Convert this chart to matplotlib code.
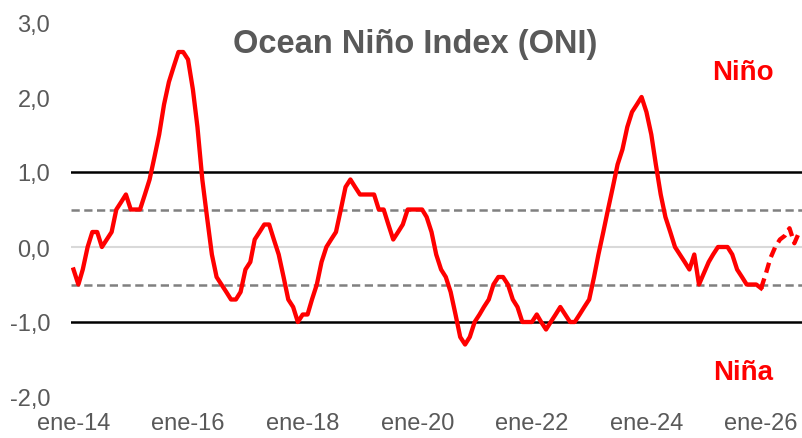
import matplotlib
matplotlib.use("Agg")
import matplotlib.pyplot as plt
import matplotlib.dates as mdates
import pandas as pd

plt.rcParams['font.family'] = ['Liberation Sans', 'DejaVu Sans']

# ONI, one value per month from ene-14 (observed) and the forecast tail
oni_obs = [
    -0.3, -0.5, -0.3, 0.0, 0.2, 0.2, 0.0, 0.1, 0.2, 0.5, 0.6, 0.7,      # 2014
    0.5, 0.5, 0.5, 0.7, 0.9, 1.2, 1.5, 1.9, 2.2, 2.4, 2.6, 2.6,         # 2015
    2.5, 2.1, 1.6, 0.9, 0.4, -0.1, -0.4, -0.5, -0.6, -0.7, -0.7, -0.6,  # 2016
    -0.3, -0.2, 0.1, 0.2, 0.3, 0.3, 0.1, -0.1, -0.4, -0.7, -0.8, -1.0,  # 2017
    -0.9, -0.9, -0.7, -0.5, -0.2, 0.0, 0.1, 0.2, 0.5, 0.8, 0.9, 0.8,    # 2018
    0.7, 0.7, 0.7, 0.7, 0.5, 0.5, 0.3, 0.1, 0.2, 0.3, 0.5, 0.5,         # 2019
    0.5, 0.5, 0.4, 0.2, -0.1, -0.3, -0.4, -0.6, -0.9, -1.2, -1.3, -1.2, # 2020
    -1.0, -0.9, -0.8, -0.7, -0.5, -0.4, -0.4, -0.5, -0.7, -0.8, -1.0, -1.0,  # 2021
    -1.0, -0.9, -1.0, -1.1, -1.0, -0.9, -0.8, -0.9, -1.0, -1.0, -0.9, -0.8,  # 2022
    -0.7, -0.4, -0.1, 0.2, 0.5, 0.8, 1.1, 1.3, 1.6, 1.8, 1.9, 2.0,      # 2023
    1.8, 1.5, 1.1, 0.7, 0.4, 0.2, 0.0, -0.1, -0.2, -0.3, -0.1, -0.5,    # 2024
    -0.35, -0.2, -0.1, 0.0, 0.0, 0.0, -0.1, -0.3, -0.4, -0.5, -0.5, -0.5,  # 2025
    -0.55,                                                               # 2026
]
oni_forecast = [-0.55, -0.35, -0.15, 0.0, 0.1, 0.15, 0.25, 0.05, 0.2]

strong_levels = [1.0, -1.0]
weak_levels = [0.5, -0.5]
y_ticks = [3.0, 2.0, 1.0, 0.0, -1.0, -2.0]
tick_years = [2014, 2016, 2018, 2020, 2022, 2024, 2026]

obs_dates = pd.date_range('2014-01-01', periods=len(oni_obs), freq='MS')
fc_dates = pd.date_range(obs_dates[-1], periods=len(oni_forecast), freq='MS')

grey = '#595959'

fig = plt.figure(figsize=(8.03, 4.39), dpi=100)
ax = fig.add_axes([71 / 803, 41 / 439, 732 / 803, 375 / 439])

ax.axhline(0, color='#d9d9d9', lw=1.5, zorder=1)
for lvl in weak_levels:
    ax.axhline(lvl, color='#808080', lw=1.8, dashes=(3.3, 1.8), zorder=2)
for lvl in strong_levels:
    ax.axhline(lvl, color='black', lw=1.8, zorder=2)

ax.plot(obs_dates, oni_obs, color='#ff0000', lw=3.1, solid_joinstyle='round', zorder=3)
ax.plot(fc_dates, oni_forecast, color='#ff0000', lw=3.1, dashes=(2.4, 1.4), zorder=3)

ax.set_ylim(-2, 3)
ax.set_xlim(mdates.date2num(obs_dates[0]) - 16,
            mdates.date2num(pd.Timestamp('2026-09-01')) + 24)

ax.set_yticks(y_ticks)
ax.set_yticklabels([f'{v:.1f}'.replace('.', ',') for v in y_ticks])
ax.set_xticks([pd.Timestamp(f'{y}-01-01') for y in tick_years])
ax.set_xticklabels([f'ene-{y % 100:02d}' for y in tick_years])
ax.tick_params(axis='both', length=0, labelsize=17, labelcolor=grey)
ax.tick_params(axis='y', pad=15)
ax.tick_params(axis='x', pad=11)
for s in ax.spines.values():
    s.set_visible(False)

fig.text(415 / 803, 1 - 45 / 439, 'Ocean Niño Index (ONI)', ha='center', va='center',
         fontsize=23.5, fontweight='bold', color=grey)
fig.text(743 / 803, 1 - 73 / 439, 'Niño', ha='center', va='center',
         fontsize=20, fontweight='bold', color='#ff0000')
fig.text(743 / 803, 1 - 373 / 439, 'Niña', ha='center', va='center',
         fontsize=20, fontweight='bold', color='#ff0000')

fig.savefig('out.png', dpi=100)
